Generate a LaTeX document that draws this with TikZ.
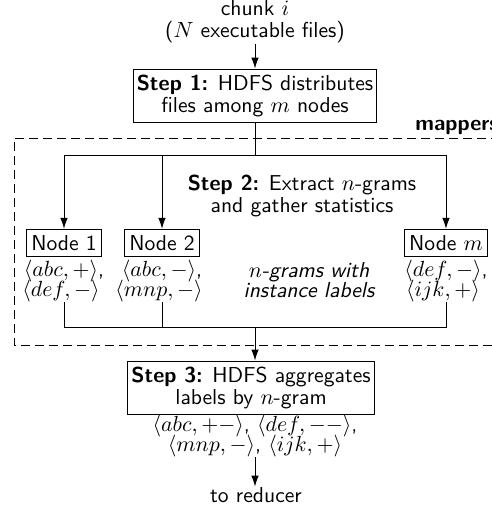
\documentclass[tikz,border=0pt]{standalone}
\usetikzlibrary{arrows.meta}
\begin{document}
\begin{tikzpicture}[x=0.5pt,y=-0.5pt,
  font=\sffamily\fontsize{10.8}{11}\selectfont,
  every node/.style={inner sep=0pt},
  stepbox/.style={draw,align=center,inner xsep=1.8pt,inner ysep=3pt,line width=0.5pt},
  nodebox/.style={draw,inner xsep=2.5pt,inner ysep=3pt,line width=0.5pt},
  lbl/.style={align=center},
  conn/.style={line width=0.5pt},
  arr/.style={conn,-{Latex[length=5.5pt,width=3.8pt]}},
  dashbox/.style={line width=0.5pt,dash pattern=on 4.5pt off 2.5pt}]
\useasboundingbox (0,0) rectangle (492,514);
% mappers region
\draw[dashbox] (500,138) -- (14,138) -- (14,345) -- (500,345);
\node[anchor=base west,font=\sffamily\bfseries\fontsize{10.8}{11}\selectfont] (mappers) at (415,130) {mappers};
% top
\node[lbl] (chunk) at (255,22) {chunk $i$\\($N$ executable files)};
\node[stepbox] (s1) at (255,96) {\textbf{Step 1:} HDFS distributes\\files among $m$ nodes};
\draw[arr] (chunk.south) -- (s1.north);
\coordinate (split) at (255,155);
\node[nodebox] (n1) at (64,243) {Node 1};
\node[nodebox] (n2) at (162,243) {Node 2};
\node[nodebox] (nm) at (446,243) {Node $m$};
\draw[conn] (s1.south) -- (split);
\draw[arr] (split) -| (n1.north);
\draw[arr] (split) -| (n2.north);
\draw[arr] (split) -| (nm.north);
\node[lbl] (step2) at (302,196) {\textbf{Step 2:} Extract $n$-grams\\and gather statistics};
\node[lbl] (l1) at (64,281) {$\langle abc,+\rangle$,\\[-1pt]$\langle def,-\rangle$\phantom{,}};
\node[lbl] (l2) at (162,281) {$\langle abc,-\rangle$,\\[-1pt]$\langle mnp,-\rangle$\phantom{,}};
\node[lbl] (lm) at (446,281) {$\langle def,-\rangle$,\\[-1pt]$\langle ijk,+\rangle$\phantom{,}};
\node[lbl,font=\sffamily\itshape\fontsize{10.8}{11}\selectfont] (inst) at (309,280) {$n$-grams with\\[-1pt]instance labels};
\coordinate (merge) at (255,327);
\draw[conn] (l1.south) |- (merge);
\draw[conn] (l2.south) |- (merge);
\draw[conn] (lm.south) |- (merge);
\node[stepbox] (s3) at (251,388) {\textbf{Step 3:} HDFS aggregates\\labels by $n$-gram};
\draw[arr] (merge) -- (merge |- s3.north);
\node[lbl] (agg) at (255,436) {$\langle abc,+-\rangle$, $\langle def,--\rangle$,\\[-1pt]$\langle mnp,-\rangle$, $\langle ijk,+\rangle$};
\node[anchor=base] (red) at (256,502) {to reducer};
\draw[arr] (agg.south -| 255,0) -- (red.north -| 255,0);
\end{tikzpicture}
\end{document}
